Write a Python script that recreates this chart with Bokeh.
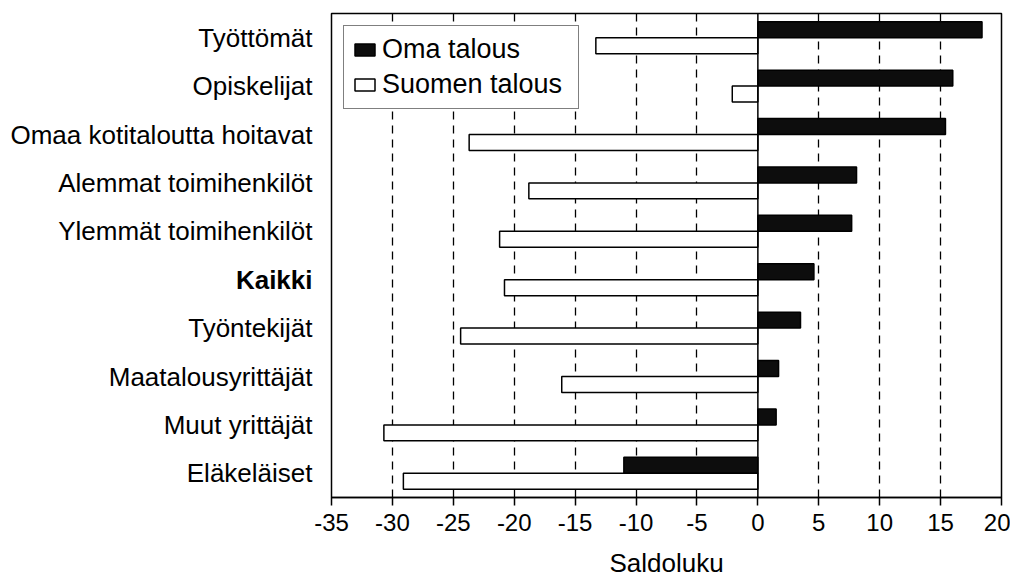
from bokeh.plotting import figure
from bokeh.layouts import row
from bokeh.models import FixedTicker, Span, Legend, LegendItem, ColumnDataSource
from bokeh.core.properties import value
from bokeh.transform import dodge
from bokeh.embed import file_html
from bokeh.resources import INLINE

categories = ["Työttömät", "Opiskelijat", "Omaa kotitaloutta hoitavat",
              "Alemmat toimihenkilöt", "Ylemmät toimihenkilöt", "Kaikki",
              "Työntekijät", "Maatalousyrittäjät", "Muut yrittäjät", "Eläkeläiset"]
oma_talous = [18.4, 16.0, 15.4, 8.1, 7.7, 4.6, 3.5, 1.7, 1.5, -11.0]
suomen_talous = [-13.3, -2.1, -23.7, -18.8, -21.2, -20.8, -24.4, -16.1, -30.7, -29.1]
bold_category = "Kaikki"
x_ticks = [-35, -30, -25, -20, -15, -10, -5, 0, 5, 10, 15, 20]
grid_ticks = [-30, -25, -20, -15, -10, -5, 5, 10, 15]

FONT = "Liberation Sans"
H = 583
TOP, BOTTOM = 13, 86

n = len(categories)
ypos = [n - 1 - i for i in range(n)]  # first category at the top
src = ColumnDataSource(dict(y=ypos, oma=oma_talous, suomen=suomen_talous, zero=[0] * n,
                            cat=categories,
                            style=["bold" if c == bold_category else "normal" for c in categories],
                            lx=[1] * n))

# ---- main chart ----
p = figure(width=697, height=H, output_backend="svg", toolbar_location=None,
           x_range=(-35, 20), y_range=(-0.5, n - 0.5),
           min_border_left=18, min_border_right=9, min_border_top=TOP,
           min_border_bottom=BOTTOM)

p.outline_line_color = "black"
p.outline_line_width = 1.5

r_oma = p.hbar(y=dodge("y", 0.165), left="zero", right="oma",
               height=0.33, source=src, fill_color="#0d0d0d",
               line_color="black", line_width=1.5)
r_suo = p.hbar(y=dodge("y", -0.165), left="zero", right="suomen",
               height=0.33, source=src, fill_color="white",
               line_color="black", line_width=1.5)

p.add_layout(Span(location=0, dimension="height", line_color="black", line_width=1.5))

p.yaxis.visible = False

p.xaxis.ticker = FixedTicker(ticks=x_ticks)
p.xaxis.major_label_overrides = {t: str(t) for t in x_ticks}
p.xaxis.minor_tick_line_color = None
p.xaxis.major_tick_out = 8
p.xaxis.major_tick_in = 0
p.xaxis.major_tick_line_color = "black"
p.xaxis.major_tick_line_width = 1.5
p.xaxis.axis_line_color = "black"
p.xaxis.axis_line_width = 1.5
p.xaxis.major_label_text_font = FONT
p.xaxis.major_label_text_font_size = "24px"
p.xaxis.major_label_text_color = "black"
p.xaxis.major_label_standoff = 8
p.xaxis.axis_label = "Saldoluku"
p.xaxis.axis_label_text_font = FONT
p.xaxis.axis_label_text_font_size = "26px"
p.xaxis.axis_label_text_font_style = "normal"
p.xaxis.axis_label_text_color = "black"
p.xaxis.axis_label_standoff = 14

p.ygrid.grid_line_color = None
p.xgrid.ticker = FixedTicker(ticks=grid_ticks)
p.xgrid.grid_line_color = "black"
p.xgrid.grid_line_dash = "8 6"
p.xgrid.grid_line_width = 1.3

legend = Legend(items=[LegendItem(label="Oma talous", renderers=[r_oma]),
                       LegendItem(label="Suomen talous", renderers=[r_suo])],
                location="top_left")
legend.border_line_color = "black"
legend.border_line_width = 1.5
legend.label_text_font = FONT
legend.label_text_font_size = "27px"
legend.label_text_color = "black"
legend.glyph_width = 25
legend.glyph_height = 15
legend.label_standoff = 5
legend.label_width = 188
legend.padding = 8
legend.spacing = 4
legend.margin = 12
legend.background_fill_alpha = 1
p.add_layout(legend)

# ---- category labels panel ----
lab = figure(width=313, height=H, output_backend="svg", toolbar_location=None,
             x_range=(0, 1), y_range=p.y_range,
             min_border_left=0, min_border_right=0, min_border_top=TOP,
             min_border_bottom=BOTTOM)
lab.axis.visible = False
lab.grid.grid_line_color = None
lab.outline_line_color = None
lab.text(x="lx", y="y", text="cat", source=src, x_offset=-1,
         text_align="right", text_baseline="middle", text_font=value(FONT),
         text_font_size="26px", text_font_style="style", text_color="black")

layout = row(lab, p, spacing=0)
open("out.html", "w").write(file_html(layout, INLINE))
